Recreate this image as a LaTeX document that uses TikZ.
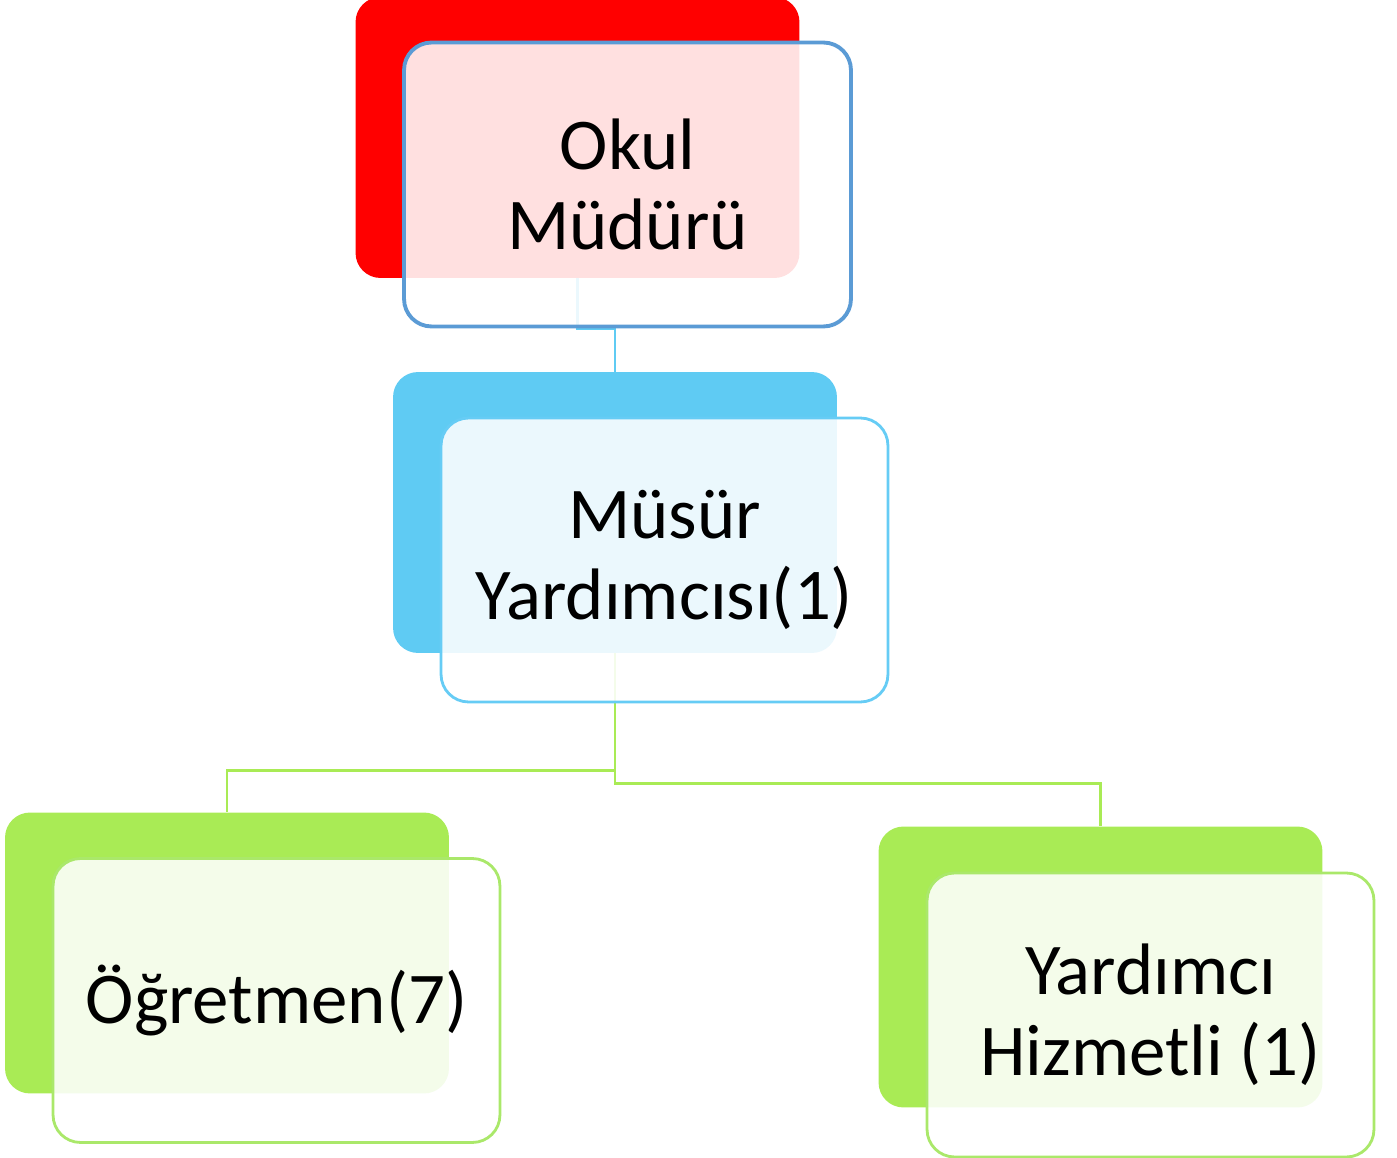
\documentclass[tikz,border=0pt]{standalone}
\usepackage{fontspec}
\setmainfont{Carlito}
\usetikzlibrary{positioning}
\definecolor{okred}{RGB}{255,0,0}
\definecolor{okblue}{RGB}{91,155,213}
\definecolor{skyfill}{RGB}{95,203,243}
\definecolor{skyline}{RGB}{102,204,245}
\definecolor{leaf}{RGB}{169,235,85}
\definecolor{leafline}{RGB}{170,232,106}

\begin{document}
\begin{tikzpicture}[x=0.02cm,y=-0.02cm,
  back_box/.style={rounded corners=0.5cm,minimum width=8.88cm,minimum height=5.62cm,inner sep=0pt},
  front_box/.style={rounded corners=0.55cm,minimum width=8.94cm,minimum height=5.68cm,inner sep=0pt,fill=white,fill opacity=0.88,text opacity=1,line width=1.6pt,align=center,font=\fontsize{41.5}{46}\selectfont},
  link/.style={line width=1.6pt}]
	\useasboundingbox (0,0) rectangle (1397,1158);
	
	\node[back_box,fill=okred] (mudur_back) at (577.5,137.5) {};
	\node[back_box,fill=skyfill] (yard_back) at (615,512.5) {};
	\node[back_box,fill=leaf] (ogretmen_back) at (227,953) {};
	\node[back_box,fill=leaf] (hizmetli_back) at (1100.5,967) {};
	
	\draw[link,skyfill] (mudur_back.south) -- ++(0,50) -| (yard_back.north);
	\draw[link,leaf] (yard_back.south) -- ++(0,117) -| (ogretmen_back.north);
	\draw[link,leaf] (yard_back.south) -- ++(0,130) -| (hizmetli_back.north);
	
	\node[front_box,draw=okblue,line width=2.2pt] (mudur) at (627.5,184.5) {Okul\\Müdürü};
	\node[front_box,draw=skyline] (yard) at (664.5,560) {Müsür\\Yardımcısı(1)};
	\node[front_box,draw=leafline] (ogretmen) at (276.5,1000.5) {Öğretmen(7)};
	\node[front_box,draw=leafline] (hizmetli) at (1150.5,1015) {Yardımcı\\Hizmetli (1)};
\end{tikzpicture}
\end{document}
